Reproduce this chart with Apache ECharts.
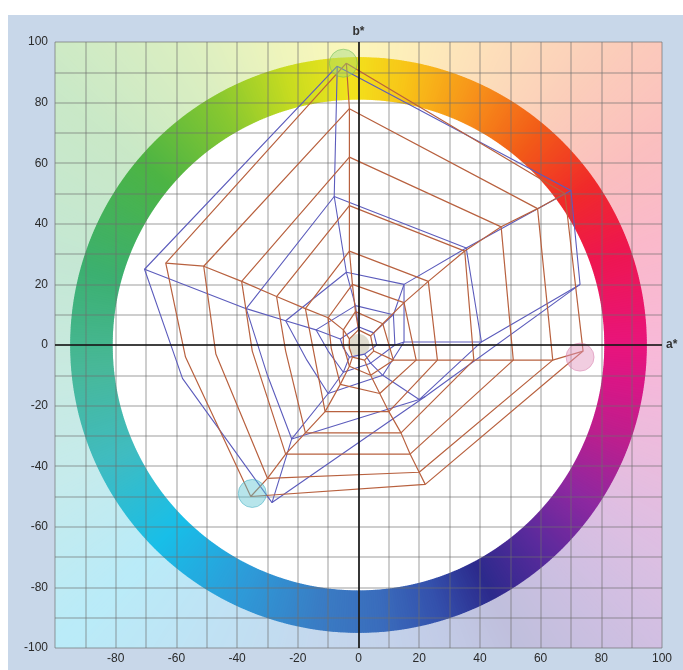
<!DOCTYPE html>
<html><head><meta charset="utf-8">
<script src="https://cdn.jsdelivr.net/npm/echarts@6/dist/echarts.min.js"></script>
<style>html,body{margin:0;padding:0;background:#fff}#c{width:683px;height:670px}</style>
</head><body><div id="c"></div>
<script>
// ---- data (a*, b*) ----
// vertex order per level: Y, R, M, B, C, C-G bend, G
const brownLevels = [
  [[-4,93],[68,50],[74,-2],[22,-46],[-35.5,-50],[-57,-4],[-63.5,27]],
  [[-3,78],[59,45],[64,-5],[20,-42],[-30,-44],[-47,-3],[-51,26]],
  [[-3,62],[47,39],[51,-5],[17,-36],[-24,-36],[-35,-2],[-38.5,21]],
  [[-3,46],[35,31],[38,-5],[14,-29],[-17.5,-29],[-24,-2],[-27,16]],
  [[-3,31],[23,21],[26,-5],[10,-22],[-11,-22],[-15,-1],[-17.5,12]],
  [[-2,20],[15,14],[19,-5],[7,-16],[-6,-13],[-9,-1],[-10,9]],
  [[-1,11],[8,7],[11.5,-5],[4,-10],[-3,-7],[-5,0],[-5,5]],
  [[0,5],[4,3],[5,-2],[2,-5],[-2,-4],[-3,-1],[-3,2]]
];
const blueLevels = [
  [[-7,92],[70,51],[73,20],[22,-17],[-28.5,-52],[-58,-11],[-70.5,25]],
  [[-8,49],[35.5,32],[40.5,1],[20,-18],[-22,-31],[-30,-10],[-37,12]],
  [[-4,24],[15,20],[15,1],[8,-10],[-10,-16],[-17,-5],[-24,8]],
  [[-1,13],[11.5,10],[12,0],[4,-6],[-5,-9],[-10,-2],[-14,5]],
  [[0,6],[5,4],[6,0],[2,-3],[-3,-4],[-5,-1],[-6,2]]
];
const spokeIndex = [0,1,2,3,4,6];
const markerPoints = [[-5,93],[73,-4],[-35,-49]];
const centerBlob = [[0,0]];
const axisRange = [-100,100];
const ringRadii = [81,95];

// ---- styles ----
const BROWN = '#b8613f', BLUE = '#5c5cbc';
const markerColors = ['rgba(150,215,120,0.5)','rgba(225,150,190,0.6)','rgba(90,195,210,0.55)'];
const markerBorders = ['rgba(110,190,90,0.7)','rgba(215,130,175,0.7)','rgba(70,175,195,0.7)'];

const series = [];
function poly(lv, color, w){
  series.push({type:'line', data: lv.concat([lv[0]]), symbol:'none', silent:true,
    lineStyle:{color, width:w}, z:3, animation:false});
}
function spokes(levels, color, w){
  spokeIndex.forEach(i=>{
    series.push({type:'line', data: levels.map(l=>l[i]), symbol:'none', silent:true,
      lineStyle:{color, width:w}, z:3, animation:false});
  });
}
series.push({type:'scatter', data: centerBlob, symbolSize:22, silent:true, z:2,
  itemStyle:{color:'rgba(140,125,80,0.35)'}, animation:false});
blueLevels.forEach(l=>poly(l, BLUE, 1.1));
spokes(blueLevels, BLUE, 1.1);
brownLevels.forEach(l=>poly(l, BROWN, 1.2));
spokes(brownLevels, BROWN, 1.2);
series.push({type:'scatter', data: markerPoints.map((p,i)=>({value:p, itemStyle:{color:markerColors[i], borderColor:markerBorders[i], borderWidth:1}})),
  symbolSize:28, silent:true, z:4, animation:false});
// cross axes with names
series.push({type:'line', data:[], silent:true, animation:false,
  markLine:{silent:true, symbol:'none', animation:false,
    lineStyle:{color:'#111', width:1.6, type:'solid'},
    label:{show:true, position:'end', color:'#333', fontFamily:'Liberation Sans', fontSize:12, fontWeight:'bold', distance:4},
    data:[{yAxis:0, label:{formatter:'a*'}},{xAxis:0, label:{formatter:'b*'}}]}});

const labelFmt = (skipMin)=> v => (v%20===0 && !(skipMin && v===axisRange[0])) ? String(v) : '';
const axisCommon = {type:'value', min:axisRange[0], max:axisRange[1], interval:10,
  axisLine:{show:false}, axisTick:{show:false},
  splitLine:{show:true, lineStyle:{color:'rgba(110,110,110,0.45)', width:1.5}}};

const chart = echarts.init(document.getElementById('c'), null, {renderer:'canvas'});
chart.setOption({
  backgroundColor:'#c8d7e9',
  animation:false,
  grid:{left:55, right:21, top:42, bottom:22, containLabel:false},
  xAxis: Object.assign({}, axisCommon, {axisLabel:{formatter:labelFmt(true), margin:5, color:'#2a2a2a', fontFamily:'Liberation Sans', fontSize:12}}),
  yAxis: Object.assign({}, axisCommon, {axisLabel:{formatter:labelFmt(false), margin:7, color:'#2a2a2a', fontFamily:'Liberation Sans', fontSize:12}}),
  series
});

// ---- decorative background: pale hue field, white disc, hue ring ----
const stops = [
  [0,'#e8157c'],[20,'#ee1650'],[35,'#f02a2a'],[50,'#f25a18'],[65,'#f7901a'],[80,'#f8c418'],
  [92,'#f2e31c'],[105,'#c8dc20'],[120,'#88c830'],[140,'#4cb444'],[165,'#3cb070'],[185,'#48b898'],
  [205,'#40bcc0'],[225,'#18bee8'],[245,'#2e9ad8'],[262,'#3a7cc4'],[275,'#3a6cbc'],[287,'#3450ac'],
  [298,'#2c2a8c'],[312,'#5a2a9c'],[326,'#8e28a0'],[340,'#bc1f8e'],[352,'#d91686'],[360,'#e8157c']];
function hex(c){return [parseInt(c.slice(1,3),16),parseInt(c.slice(3,5),16),parseInt(c.slice(5,7),16)];}
function hueColor(h){
  for(let i=0;i<stops.length-1;i++){
    if(h>=stops[i][0] && h<=stops[i+1][0]){
      const t=(h-stops[i][0])/(stops[i+1][0]-stops[i][0]);
      const a=hex(stops[i][1]), b=hex(stops[i+1][1]);
      return [0,1,2].map(k=>a[k]+(b[k]-a[k])*t);
    }
  }
  return hex(stops[0][1]);
}
const p0 = chart.convertToPixel({gridIndex:0},[axisRange[0],axisRange[1]]);
const p1 = chart.convertToPixel({gridIndex:0},[axisRange[1],axisRange[0]]);
const pc = chart.convertToPixel({gridIndex:0},[0,0]);
const W = p1[0]-p0[0], H = p1[1]-p0[1];
const sx = W/(axisRange[1]-axisRange[0]), sy = H/(axisRange[1]-axisRange[0]);
const cv = document.createElement('canvas');
cv.width = Math.round(W*2); cv.height = Math.round(H*2);
const ctx = cv.getContext('2d');
ctx.scale(2,2);
ctx.translate(pc[0]-p0[0], pc[1]-p0[1]);
ctx.scale(sx, sy);
const step = 0.5, D = Math.PI/180;
for(let h=0; h<360; h+=step){
  const c = hueColor(h+step/2);
  const m = c.map(v=>Math.round(v*0.3+255*0.7));
  ctx.fillStyle = `rgb(${m[0]},${m[1]},${m[2]})`;
  ctx.beginPath(); ctx.moveTo(0,0);
  ctx.arc(0,0,160,-(h+step+0.15)*D,-(h-0.15)*D);
  ctx.closePath(); ctx.fill();
}
ctx.fillStyle='#ffffff';
ctx.beginPath(); ctx.arc(0,0,ringRadii[0],0,Math.PI*2); ctx.fill();
for(let h=0; h<360; h+=step){
  const c = hueColor(h+step/2).map(Math.round);
  ctx.fillStyle = `rgb(${c[0]},${c[1]},${c[2]})`;
  const a0=-(h+step+0.15)*D, a1=-(h-0.15)*D;
  ctx.beginPath();
  ctx.arc(0,0,ringRadii[1],a0,a1);
  ctx.arc(0,0,ringRadii[0],a1,a0,true);
  ctx.closePath(); ctx.fill();
}
chart.setOption({graphic:[
  {type:'rect', z:-30, silent:true, shape:{x:0,y:0,width:683,height:15}, style:{fill:'#ffffff'}},
  {type:'rect', z:-30, silent:true, shape:{x:0,y:0,width:8,height:670}, style:{fill:'#ffffff'}},
  {type:'image', z:-20, silent:true, style:{image:cv, x:p0[0], y:p0[1], width:W, height:H}}
]});
</script></body></html>
